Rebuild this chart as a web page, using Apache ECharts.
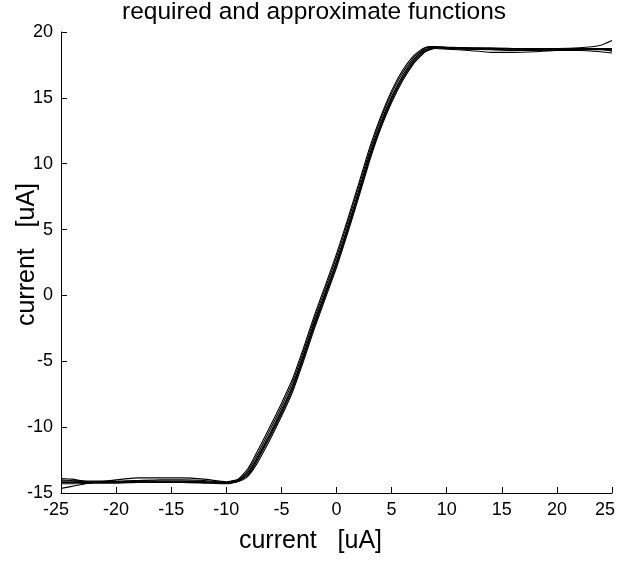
<!DOCTYPE html>
<html>
<head>
<meta charset="utf-8">
<script src="https://cdn.jsdelivr.net/npm/echarts@6/dist/echarts.min.js"></script>
<style>html,body{margin:0;padding:0;background:#fff}#c{width:620px;height:563px}</style>
</head>
<body>
<div id="c"></div>
<script>
var titleText = 'required and approximate functions';
var xName = 'current   [uA]';
var yName = 'current   [uA]';

var xs = [-25,-24,-22,-20,-18,-16,-14,-12,-10,-9.5,-9,-8.5,-8,-7.5,-7,-6,-5,-4,-3,-2,-1,0,1,2,3,4,5,6,7,7.5,8,8.5,9,10,12,14,16,18,20,22,24,25];

var curveA = [-14.1,-14.1,-14.15,-14.15,-14.15,-14.15,-14.15,-14.15,-14.2,-14.15,-14.05,-13.8,-13.4,-12.75,-12.0,-10.4,-8.7,-6.85,-4.5,-2.0,0.3,2.6,5.2,7.9,10.7,13.1,15.1,16.7,17.9,18.35,18.65,18.8,18.85,18.8,18.75,18.75,18.7,18.7,18.7,18.7,18.7,18.65];
var curveB = [-13.9,-13.95,-14.2,-14.0,-13.85,-13.85,-13.85,-13.95,-14.15,-14.1,-14.0,-13.6,-13.1,-12.35,-11.55,-9.9,-8.2,-6.35,-4.0,-1.5,0.8,3.15,5.75,8.45,11.2,13.55,15.55,17.1,18.2,18.55,18.8,18.9,18.9,18.85,18.8,18.75,18.75,18.75,18.75,18.8,19.0,19.35];
var curveC = [-14.65,-14.5,-14.2,-14.2,-14.2,-14.2,-14.2,-14.2,-14.25,-14.2,-14.15,-14.0,-13.7,-13.15,-12.45,-10.9,-9.2,-7.35,-5.0,-2.5,-0.2,2.1,4.7,7.4,10.2,12.65,14.65,16.3,17.6,18.05,18.45,18.65,18.75,18.7,18.6,18.45,18.45,18.5,18.6,18.6,18.5,18.4];
var curveD = [-14.3,-14.3,-14.25,-14.25,-14.2,-14.2,-14.2,-14.25,-14.3,-14.25,-14.15,-13.85,-13.5,-12.85,-12.1,-10.55,-8.85,-7.0,-4.65,-2.15,0.15,2.45,5.05,7.75,10.55,12.95,14.95,16.55,17.8,18.25,18.6,18.75,18.8,18.75,18.7,18.7,18.65,18.65,18.6,18.65,18.65,18.6];
var curveE = [-14.0,-14.05,-14.1,-14.1,-14.05,-14.0,-14.0,-14.05,-14.2,-14.1,-14.0,-13.7,-13.25,-12.55,-11.8,-10.15,-8.45,-6.6,-4.25,-1.75,0.55,2.9,5.5,8.2,10.95,13.35,15.35,16.9,18.05,18.45,18.75,18.85,18.85,18.8,18.8,18.8,18.75,18.7,18.7,18.75,18.75,18.75];
var curveF = [-14.2,-14.2,-14.2,-14.15,-14.1,-14.1,-14.1,-14.15,-14.25,-14.2,-14.1,-13.9,-13.6,-13.0,-12.25,-10.7,-9.0,-7.15,-4.8,-2.3,0.0,2.3,4.9,7.6,10.4,12.8,14.8,16.45,17.7,18.15,18.5,18.7,18.8,18.75,18.7,18.65,18.6,18.6,18.65,18.7,18.7,18.55];

var curves = [curveA, curveB, curveC, curveD, curveE, curveF];

function pairs(ys){ return xs.map(function(x,i){ return [x, ys[i]]; }); }

var chart = echarts.init(document.getElementById('c'), null, {renderer:'canvas'});
var font = 'Liberation Sans, Arial, sans-serif';
chart.setOption({
  animation: false,
  backgroundColor: '#fff',
  title: {
    text: titleText, left: 122, top: 0, padding: 0,
    textStyle: {fontFamily: font, fontSize: 24.5, fontWeight: 'normal', color: '#000'}
  },
  grid: {left: 61, right: 8, top: 32, bottom: 70, containLabel: false, outerBoundsMode: 'none'},
  xAxis: {
    type: 'value', min: -25, max: 25, interval: 5,
    name: xName, nameLocation: 'middle', nameGap: 36, nameMoveOverlap: false,
    nameTextStyle: {fontFamily: font, fontSize: 25, color: '#000', padding: [0, 52, 0, 0]},
    axisLine: {show: true, onZero: false, lineStyle: {color: '#000', width: 1}},
    axisTick: {show: true, inside: true, length: 6, lineStyle: {color: '#000'}},
    axisLabel: {
      fontFamily: font, fontSize: 18, color: '#000', margin: 8,
      formatter: function (v) {
        if (v === 25) return '{e|25}';
        if (v === -25) return '{s|-25}';
        return String(v);
      },
      rich: {
        e: {fontFamily: font, fontSize: 18, color: '#000', padding: [0, 14, 0, 0]},
        s: {fontFamily: font, fontSize: 18, color: '#000', padding: [0, 10, 0, 0]}
      }
    },
    splitLine: {show: false}
  },
  yAxis: {
    type: 'value', min: -15, max: 20, interval: 5,
    name: yName, nameLocation: 'middle', nameGap: 21, nameMoveOverlap: false,
    nameTextStyle: {fontFamily: font, fontSize: 25, color: '#000', padding: [0, 0, 0, 16]},
    axisLine: {show: true, onZero: false, lineStyle: {color: '#000', width: 1}},
    axisTick: {show: true, inside: true, length: 6, lineStyle: {color: '#000'}},
    axisLabel: {fontFamily: font, fontSize: 18, color: '#000', margin: 8},
    splitLine: {show: false}
  },
  series: curves.map(function(c){
    return {type: 'line', data: pairs(c), showSymbol: false, symbol: 'none',
      lineStyle: {color: '#000', width: 1.1}, smooth: 0.15};
  })
});
</script>
</body>
</html>
